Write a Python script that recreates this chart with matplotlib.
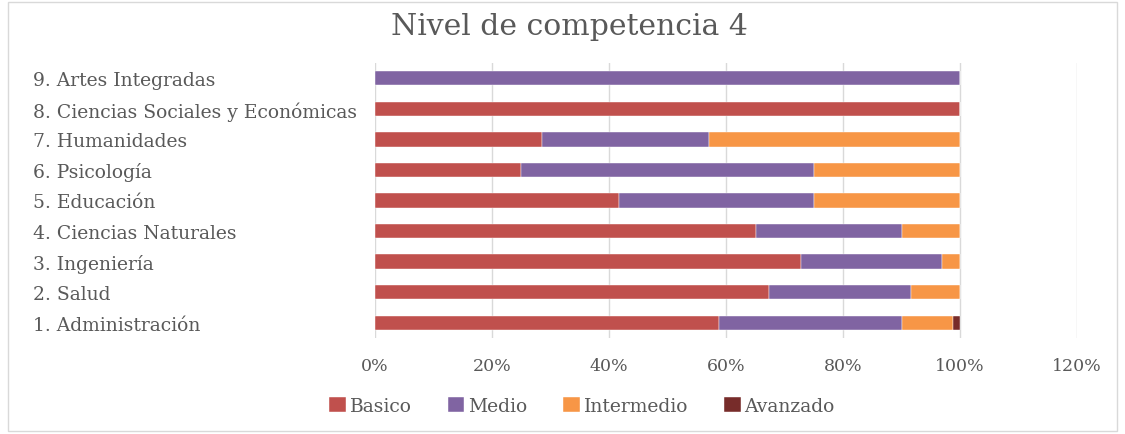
import matplotlib
matplotlib.use("Agg")
import matplotlib.pyplot as plt
from matplotlib.patches import Rectangle
from matplotlib.ticker import FuncFormatter, MultipleLocator

categories = ["1. Administración", "2. Salud", "3. Ingeniería", "4. Ciencias Naturales",
              "5. Educación", "6. Psicología", "7. Humanidades",
              "8. Ciencias Sociales y Económicas", "9. Artes Integradas"]
basico = [0.588, 0.674, 0.728, 0.651, 0.417, 0.25, 0.286, 1.0, 0.0]
medio = [0.312, 0.243, 0.241, 0.249, 0.333, 0.50, 0.285, 0.0, 1.0]
intermedio = [0.088, 0.083, 0.031, 0.10, 0.25, 0.25, 0.429, 0.0, 0.0]
avanzado = [0.012, 0.0, 0.0, 0.0, 0.0, 0.0, 0.0, 0.0, 0.0]
series_names = ["Basico", "Medio", "Intermedio", "Avanzado"]
colors = ["#C0504D", "#8064A2", "#F79646", "#772C2A"]

fig = plt.figure(figsize=(11.25, 4.35), dpi=100)
fig.patches.append(Rectangle((8/1125, 3/435), 1109/1125, 429/435, transform=fig.transFigure,
                             fill=False, edgecolor="#D9D9D9", linewidth=1))
ax_w = 1077 - 375
ax = fig.add_axes([375/1125, 1 - 339/435, ax_w/1125, (339-64)/435])

ypos = list(range(len(categories)))
left = [0.0] * len(categories)
for name, vals, c in zip(series_names, [basico, medio, intermedio, avanzado], colors):
    ax.barh(ypos, vals, left=left, height=0.47, color=c, label=name,
            edgecolor="white", linewidth=0.3, zorder=3)
    left = [l + v for l, v in zip(left, vals)]

ax.set_xlim(0, 1.2)
ax.set_ylim(-0.5, len(categories) - 0.5)
ax.xaxis.set_major_locator(MultipleLocator(0.2))
ax.xaxis.set_major_formatter(FuncFormatter(lambda x, p: f"{x*100:.0f}%"))
ax.set_yticks(ypos)
ax.set_yticklabels(categories)
ax.grid(axis="x", color="#D9D9D9", linewidth=1, zorder=0)
for s in ax.spines.values():
    s.set_visible(False)
ax.tick_params(axis="y", length=0, colors="#595959", labelsize=13.5, pad=0)
ax.tick_params(axis="x", length=0, colors="#595959", labelsize=12.5, pad=14)
for lab in ax.get_yticklabels() + ax.get_xticklabels():
    lab.set_fontfamily("DejaVu Serif")
for lab in ax.get_yticklabels():
    lab.set_horizontalalignment("left")
    lab.set_x(-(375 - 33) / ax_w)

fig.text(569/1125, 1 - 27/435, "Nivel de competencia 4", ha="center", va="center",
         fontsize=21.5, color="#595959", family="DejaVu Serif")

leg = fig.legend(loc="center", bbox_to_anchor=(582/1125, 1 - 407/435), ncol=4, frameon=False,
                 prop={"family": "DejaVu Serif", "size": 13.5}, handlelength=0.9, handleheight=0.9,
                 handletextpad=0.2, columnspacing=1.9, labelcolor="#595959")

fig.savefig("out.png", dpi=100)
